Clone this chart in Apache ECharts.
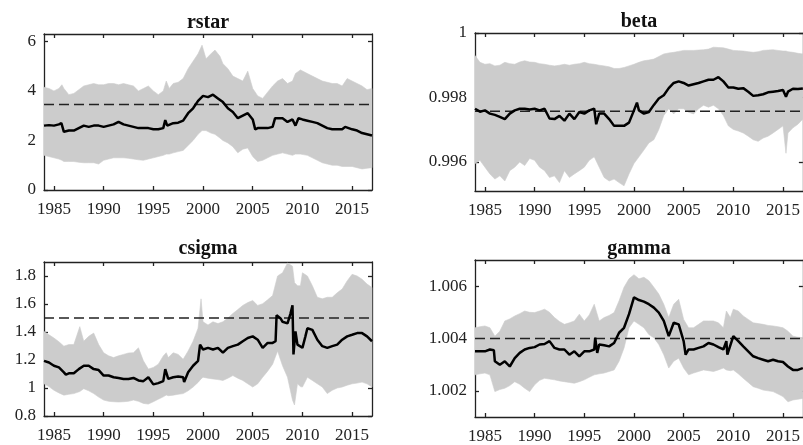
<!DOCTYPE html>
<html>
<head>
<meta charset="utf-8">
<script src="https://cdn.jsdelivr.net/npm/echarts@6/dist/echarts.min.js"></script>
<style>
html,body{margin:0;padding:0;background:#fff;}
#chart{width:803px;height:445px;}
</style>
</head>
<body>
<div id="chart"></div>
<script>
// ---------- Data ----------
const panelTitles = ['rstar', 'beta', 'csigma', 'gamma'];
const xTicks = [1985, 1990, 1995, 2000, 2005, 2010, 2015];
const xMin = 1984, xMax = 2017;

// rstar
const rstarMedT = [1984,1984.5,1985,1985.5,1985.75,1986,1986.5,1987,1987.5,1988,1988.5,1989,1989.5,1990,1990.5,1991,1991.5,1992,1992.5,1993,1993.5,1994,1994.5,1995,1995.5,1996,1996.2,1996.4,1997,1997.5,1998,1998.5,1999,1999.5,2000,2000.5,2001,2001.5,2002,2002.5,2003,2003.5,2004,2004.5,2005,2005.25,2005.5,2006,2006.5,2007,2007.25,2007.5,2008,2008.5,2009,2009.3,2009.6,2010,2010.5,2011,2011.5,2012,2012.5,2013,2013.5,2014,2014.3,2014.5,2015,2015.5,2016,2016.5,2017];
const rstarMed = [2.6,2.62,2.6,2.65,2.7,2.35,2.4,2.4,2.5,2.6,2.55,2.6,2.6,2.55,2.6,2.65,2.75,2.65,2.6,2.55,2.5,2.5,2.5,2.45,2.45,2.5,2.82,2.6,2.7,2.72,2.8,3.1,3.3,3.6,3.8,3.75,3.85,3.7,3.55,3.3,3.15,2.9,3.0,3.1,2.85,2.45,2.5,2.5,2.5,2.55,2.9,2.9,2.9,2.75,2.85,2.6,2.9,2.85,2.8,2.75,2.7,2.6,2.5,2.45,2.45,2.45,2.55,2.5,2.45,2.4,2.3,2.25,2.2];
const rstarBandT = [1984,1984.5,1985,1985.5,1985.8,1986,1986.5,1987,1987.5,1988,1988.5,1989,1989.5,1990,1990.5,1991,1991.5,1992,1992.5,1993,1993.5,1994,1994.5,1995,1995.5,1996,1996.3,1996.6,1997,1997.5,1998,1998.5,1999,1999.5,1999.9,2000.3,2000.8,2001.2,2001.7,2002,2002.5,2003,2003.5,2004,2004.5,2005,2005.5,2006,2006.5,2007,2007.5,2008,2008.5,2009,2009.3,2009.8,2010.5,2011,2011.5,2012,2012.5,2013,2013.5,2014,2014.5,2015,2015.5,2016,2016.5,2017];
const rstarLo = [1.4,1.35,1.3,1.25,1.2,1.15,1.15,1.15,1.12,1.1,1.1,1.1,1.05,1.2,1.25,1.3,1.3,1.3,1.28,1.25,1.22,1.2,1.25,1.3,1.35,1.4,1.45,1.45,1.5,1.55,1.6,1.8,2.0,2.25,2.4,2.4,2.3,2.25,2.1,2.0,1.9,1.75,1.5,1.65,1.7,1.35,1.15,1.2,1.3,1.4,1.45,1.5,1.45,1.4,1.45,1.45,1.4,1.3,1.2,1.1,1.05,1.0,1.0,0.95,0.95,0.95,0.9,0.85,0.88,0.9];
const rstarHi = [4.15,4.1,4.0,4.1,4.25,4.1,3.85,3.9,4.05,4.2,4.25,4.3,4.25,4.25,4.3,4.3,4.25,4.3,4.25,4.2,4.0,4.1,4.2,4.0,3.85,4.0,4.4,4.1,4.3,4.35,4.5,4.9,5.2,5.5,5.85,5.3,5.5,5.65,5.4,5.1,4.9,4.6,4.5,4.4,4.8,4.1,3.8,3.7,3.95,4.2,4.4,4.5,4.3,4.4,4.7,4.85,4.7,4.6,4.5,4.4,4.35,4.3,4.3,4.2,4.5,4.4,4.3,4.2,4.05,4.1];
const rstarRef = 3.45;
const rstarYTicks = [0, 2, 4, 6];
const rstarYRange = [0, 6.3];

// beta
const betaMedT = [1984,1984.5,1985,1985.5,1986,1986.5,1987,1987.5,1988,1988.5,1989,1989.5,1990,1990.5,1991,1991.5,1992,1992.5,1993,1993.5,1994,1994.5,1995,1995.5,1996,1996.2,1996.5,1997,1997.5,1998,1998.5,1999,1999.5,2000,2000.3,2000.5,2001,2001.5,2002,2002.5,2003,2003.5,2004,2004.5,2005,2005.5,2006,2006.5,2007,2007.5,2008,2008.5,2009,2009.5,2010,2010.5,2011,2011.5,2012,2012.5,2013,2013.5,2014,2014.5,2015,2015.3,2015.5,2016,2016.5,2017];
const betaMed = [0.99765,0.99756,0.9976,0.9975,0.99746,0.9974,0.99733,0.9975,0.9976,0.99765,0.99765,0.99763,0.99765,0.9976,0.99765,0.99735,0.99733,0.99743,0.99728,0.9975,0.99733,0.99755,0.9975,0.9976,0.99765,0.99717,0.9975,0.9975,0.99733,0.99712,0.99712,0.99712,0.99722,0.9976,0.99784,0.9976,0.9975,0.99755,0.99777,0.99797,0.99807,0.99829,0.99845,0.9985,0.99845,0.99837,0.99841,0.99845,0.9985,0.99855,0.99855,0.99863,0.9985,0.99831,0.99831,0.99827,0.99829,0.99818,0.99805,0.99807,0.9981,0.99816,0.99818,0.9982,0.99823,0.99802,0.99818,0.99827,0.99826,0.99828];
const betaBandT = [1984,1984.5,1985,1985.5,1986,1986.5,1987,1987.5,1988,1988.5,1989,1989.5,1990,1990.5,1991,1991.5,1992,1992.5,1993,1993.5,1994,1994.5,1995,1995.5,1996,1996.5,1997,1997.5,1998,1998.5,1999,1999.5,2000,2000.5,2001,2001.5,2002,2002.5,2003,2003.5,2004,2004.5,2005,2005.5,2006,2006.5,2007,2007.5,2008,2008.5,2009,2009.5,2010,2010.5,2011,2011.5,2012,2012.5,2013,2013.5,2014,2014.5,2015,2015.3,2015.5,2016,2016.5,2017];
const betaLo = [0.99595,0.99605,0.99584,0.99563,0.99547,0.99557,0.99541,0.99573,0.99584,0.996,0.99589,0.99611,0.99605,0.99584,0.99573,0.99552,0.99557,0.99536,0.99573,0.99552,0.99563,0.99573,0.99584,0.99605,0.99616,0.99584,0.99552,0.99541,0.99547,0.99536,0.99526,0.99563,0.99595,0.99616,0.99637,0.99659,0.99669,0.99701,0.99744,0.99765,0.99749,0.99765,0.99765,0.99754,0.99749,0.99765,0.99776,0.9977,0.99776,0.99765,0.99744,0.99712,0.99701,0.99696,0.9969,0.9968,0.99669,0.99664,0.99674,0.9968,0.9969,0.99701,0.99712,0.99627,0.9969,0.99706,0.99717,0.99733];
const betaHi = [0.9993,0.99909,0.99903,0.99905,0.99898,0.999,0.99909,0.99905,0.99903,0.9991,0.99914,0.9991,0.99909,0.99905,0.99903,0.999,0.99898,0.999,0.99903,0.999,0.99903,0.99905,0.99909,0.99905,0.99903,0.999,0.99898,0.99895,0.9989,0.9989,0.99893,0.99898,0.99903,0.99909,0.99914,0.99916,0.99919,0.99927,0.99935,0.99938,0.9994,0.99943,0.99946,0.99946,0.99946,0.99947,0.99948,0.9995,0.99956,0.99955,0.99954,0.9995,0.99946,0.99945,0.99944,0.99942,0.9994,0.99942,0.99946,0.99947,0.99948,0.99946,0.99944,0.99944,0.99942,0.9994,0.99937,0.99935];
const betaRef = 0.99757;
const betaYTicks = [0.996, 0.998, 1];
const betaYRange = [0.9951, 1.0];

// csigma
const csigmaMedT = [1984,1984.5,1985,1985.5,1986,1986.2,1986.5,1987,1987.5,1988,1988.5,1989,1989.5,1990,1990.5,1991,1991.5,1992,1992.5,1993,1993.5,1994,1994.5,1995,1995.5,1996,1996.2,1996.5,1997,1997.5,1998,1998.1,1998.5,1999,1999.5,1999.7,2000,2000.5,2001,2001.5,2002,2002.5,2003,2003.5,2004,2004.5,2005,2005.5,2006,2006.5,2007,2007.3,2007.4,2007.8,2008,2008.5,2008.8,2009,2009.1,2009.3,2009.5,2010,2010.3,2010.5,2011,2011.5,2012,2012.5,2013,2013.5,2014,2014.5,2015,2015.5,2016,2016.5,2017];
const csigmaMed = [1.194,1.182,1.159,1.147,1.112,1.096,1.105,1.105,1.135,1.159,1.159,1.135,1.128,1.089,1.089,1.077,1.072,1.065,1.065,1.072,1.054,1.049,1.077,1.026,1.035,1.049,1.135,1.065,1.077,1.082,1.077,1.042,1.112,1.159,1.194,1.31,1.275,1.287,1.275,1.287,1.252,1.287,1.299,1.31,1.334,1.357,1.369,1.345,1.287,1.322,1.322,1.334,1.52,1.497,1.473,1.462,1.532,1.59,1.24,1.404,1.31,1.287,1.369,1.427,1.415,1.345,1.299,1.287,1.299,1.31,1.345,1.369,1.38,1.392,1.392,1.369,1.334];
const csigmaBandT = [1984,1984.5,1985,1985.5,1986,1986.5,1987,1987.6,1988,1988.5,1989,1989.5,1990,1990.5,1991,1991.5,1992,1992.5,1993,1993.5,1994,1994.5,1995,1995.5,1996,1996.3,1996.5,1997,1997.5,1998,1998.5,1999,1999.5,1999.8,2000,2000.5,2001,2001.5,2002,2002.5,2003,2003.5,2004,2004.5,2005,2005.5,2006,2006.5,2007,2007.5,2008,2008.5,2009,2009.2,2009.5,2009.8,2010,2010.5,2011,2011.5,2012,2012.5,2013,2013.5,2014,2014.5,2015,2015.5,2016,2016.5,2017];
const csigmaLo = [1.03,1.01,0.984,0.965,0.949,0.955,0.96,0.975,0.995,0.98,0.96,0.935,0.914,0.905,0.902,0.9,0.902,0.905,0.914,0.905,0.89,0.885,0.902,0.92,0.937,0.95,0.945,0.949,0.955,0.96,0.98,1.007,1.04,1.065,1.077,1.07,1.065,1.06,1.054,1.07,1.089,1.07,1.054,1.03,1.007,1.03,1.077,1.12,1.17,1.264,1.159,1.077,0.914,0.879,1.03,1.01,1.007,1.077,1.054,1.03,1.007,0.96,0.984,1.0,1.007,1.02,1.03,1.035,1.042,1.03,1.007];
const csigmaHi = [1.404,1.38,1.357,1.33,1.299,1.31,1.31,1.438,1.334,1.369,1.392,1.31,1.252,1.23,1.217,1.23,1.24,1.25,1.252,1.287,1.194,1.135,1.147,1.17,1.229,1.252,1.217,1.252,1.24,1.205,1.264,1.334,1.427,1.637,1.473,1.45,1.473,1.46,1.473,1.5,1.532,1.56,1.59,1.61,1.625,1.59,1.602,1.63,1.66,1.8,1.823,1.893,1.87,1.753,1.73,1.73,1.823,1.8,1.73,1.648,1.637,1.648,1.648,1.68,1.707,1.765,1.812,1.8,1.777,1.742,1.718];
const csigmaRef = 1.5;
const csigmaYTicks = [0.8, 1, 1.2, 1.4, 1.6, 1.8];
const csigmaYRange = [0.8, 1.9];

// gamma
const gammaMedT = [1984,1984.5,1985,1985.5,1985.9,1986,1986.5,1987,1987.5,1988,1988.5,1989,1989.5,1990,1990.5,1991,1991.5,1992,1992.5,1993,1993.5,1994,1994.5,1995,1995.5,1996,1996.1,1996.3,1996.5,1997,1997.5,1998,1998.5,1999,1999.5,2000,2000.5,2001,2001.5,2002,2002.5,2003,2003.5,2004,2004.5,2005,2005.2,2005.5,2006,2006.5,2007,2007.5,2008,2008.5,2009,2009.3,2009.4,2009.6,2010,2010.5,2011,2011.5,2012,2012.5,2013,2013.5,2014,2014.5,2015,2015.5,2016,2016.5,2017];
const gammaMed = [1.00351,1.00351,1.00351,1.00358,1.00355,1.00313,1.003,1.00313,1.00293,1.00325,1.00345,1.00358,1.00364,1.00367,1.00377,1.00379,1.0039,1.00364,1.00358,1.00358,1.00338,1.00351,1.00332,1.00351,1.00351,1.00358,1.00403,1.00345,1.00377,1.00374,1.0037,1.00383,1.00422,1.00441,1.00493,1.00557,1.00547,1.00541,1.00531,1.00518,1.00499,1.00467,1.00409,1.0046,1.00454,1.0039,1.00338,1.00358,1.00358,1.00364,1.0037,1.00383,1.00377,1.00367,1.00358,1.0039,1.00338,1.00345,1.00409,1.0039,1.0037,1.00351,1.00332,1.00325,1.00319,1.00313,1.00319,1.00313,1.0031,1.00293,1.0028,1.0028,1.00287];
const gammaBandT = [1984,1984.5,1985,1985.5,1986,1986.5,1987,1987.5,1988,1988.5,1989,1989.5,1990,1990.5,1991,1991.5,1992,1992.5,1993,1993.5,1994,1994.5,1995,1995.5,1996,1996.5,1997,1997.5,1998,1998.5,1999,1999.5,2000,2000.5,2001,2001.5,2002,2002.5,2003,2003.5,2004,2004.5,2005,2005.5,2006,2006.5,2007,2007.5,2008,2008.5,2009,2009.3,2009.7,2010,2010.5,2011,2011.5,2012,2012.5,2013,2013.5,2014,2014.5,2015,2015.5,2016,2016.5,2017];
const gammaLo = [1.00261,1.00265,1.00268,1.00261,1.00197,1.00205,1.0021,1.0022,1.00235,1.00225,1.0021,1.00197,1.00223,1.0024,1.00248,1.00245,1.00242,1.00238,1.00235,1.00232,1.00229,1.00235,1.00242,1.00252,1.00261,1.00265,1.00268,1.00274,1.0028,1.00313,1.00364,1.00441,1.00467,1.00454,1.00441,1.00415,1.00403,1.00377,1.00338,1.00287,1.00313,1.00325,1.00287,1.00261,1.00268,1.00274,1.0028,1.00277,1.00274,1.0028,1.00287,1.0028,1.00277,1.0028,1.00265,1.00248,1.00232,1.00216,1.0021,1.00203,1.002,1.00197,1.00188,1.00178,1.00158,1.00165,1.00168,1.00171];
const gammaHi = [1.00441,1.00445,1.00448,1.00441,1.00409,1.00428,1.00467,1.00475,1.00486,1.00495,1.00505,1.005,1.00499,1.00505,1.00512,1.005,1.0048,1.00465,1.00454,1.0046,1.00467,1.00493,1.00467,1.0049,1.00531,1.00467,1.0048,1.00488,1.00499,1.00544,1.00596,1.00628,1.00644,1.00628,1.00634,1.00621,1.00596,1.0057,1.00531,1.0048,1.00531,1.0055,1.00473,1.00441,1.00441,1.00454,1.00467,1.00467,1.00467,1.0046,1.00441,1.00505,1.0048,1.00512,1.00505,1.00486,1.00473,1.0046,1.00457,1.00454,1.0045,1.00448,1.00445,1.00441,1.00428,1.00409,1.00405,1.00403];
const gammaRef = 1.004;
const gammaYTicks = [1.002, 1.004, 1.006];
const gammaYRange = [1.001, 1.007];

// ---------- Build ----------
const panels = [
  {title: panelTitles[0], medT: rstarMedT, med: rstarMed, bandT: rstarBandT, lo: rstarLo, hi: rstarHi, ref: rstarRef, yTicks: rstarYTicks, yr: rstarYRange},
  {title: panelTitles[1], medT: betaMedT, med: betaMed, bandT: betaBandT, lo: betaLo, hi: betaHi, ref: betaRef, yTicks: betaYTicks, yr: betaYRange},
  {title: panelTitles[2], medT: csigmaMedT, med: csigmaMed, bandT: csigmaBandT, lo: csigmaLo, hi: csigmaHi, ref: csigmaRef, yTicks: csigmaYTicks, yr: csigmaYRange},
  {title: panelTitles[3], medT: gammaMedT, med: gammaMed, bandT: gammaBandT, lo: gammaLo, hi: gammaHi, ref: gammaRef, yTicks: gammaYTicks, yr: gammaYRange}
];
const gridBoxes = [
  {left: 44, top: 34, width: 328, height: 156},
  {left: 475, top: 33, width: 330, height: 158},
  {left: 44, top: 262, width: 328, height: 154},
  {left: 475, top: 260, width: 330, height: 157}
];
const titleTops = [13, 12, 239, 239];

const FONT = 'Liberation Serif';
const AX = '#222';
const lineStyleAx = {color: AX, width: 1.3};
function fmt(v) { return String(parseFloat(Number(v).toFixed(5))); }

const grids = [], xAxes = [], yAxes = [], series = [], titles = [];
panels.forEach((p, i) => {
  const g = gridBoxes[i];
  grids.push(Object.assign({containLabel: false}, g));
  titles.push({
    text: p.title, left: g.left + g.width / 2 - (i % 2 === 1 ? 1 : 0), top: titleTops[i], textAlign: 'center', padding: 0,
    textStyle: {fontFamily: FONT, fontWeight: 'bold', fontSize: 20, color: '#111'}
  });
  // bottom x axis with labels
  xAxes.push({
    type: 'value', gridIndex: i, position: 'bottom', min: xMin, max: xMax,
    axisLine: {show: true, onZero: false, lineStyle: lineStyleAx},
    axisTick: {show: true, inside: true, length: 4, customValues: xTicks, lineStyle: lineStyleAx},
    axisLabel: {show: true, customValues: xTicks, margin: 11, fontFamily: FONT, fontSize: 17, color: '#222', formatter: v => String(v)},
    splitLine: {show: false}
  });
  // top x axis (box)
  xAxes.push({
    type: 'value', gridIndex: i, position: 'top', min: xMin, max: xMax,
    axisLine: {show: true, onZero: false, lineStyle: lineStyleAx},
    axisTick: {show: true, inside: true, length: 4, customValues: xTicks, lineStyle: lineStyleAx},
    axisLabel: {show: false},
    splitLine: {show: false}
  });
  yAxes.push({
    type: 'value', gridIndex: i, position: 'left', min: p.yr[0], max: p.yr[1],
    axisLine: {show: true, onZero: false, lineStyle: lineStyleAx},
    axisTick: {show: true, inside: true, length: 4, customValues: p.yTicks, lineStyle: lineStyleAx},
    axisLabel: {show: true, customValues: p.yTicks, margin: 8, fontFamily: FONT, fontSize: 17, color: '#222', formatter: v => fmt(v)},
    splitLine: {show: false}
  });
  yAxes.push({
    type: 'value', gridIndex: i, position: 'right', min: p.yr[0], max: p.yr[1],
    axisLine: {show: true, onZero: false, lineStyle: lineStyleAx},
    axisTick: {show: true, inside: true, length: 4, customValues: p.yTicks, lineStyle: lineStyleAx},
    axisLabel: {show: false},
    splitLine: {show: false}
  });
  const xi = 2 * i, yi = 2 * i;
  const T = p.bandT, lo = p.lo, hi = p.hi;
  series.push({
    type: 'custom', xAxisIndex: xi, yAxisIndex: yi, silent: true, z: 1,
    data: T.map((t, k) => [t, lo[k], hi[k]]),
    encode: {x: 0, y: [1, 2]},
    renderItem: function (params, api) {
      if (params.dataIndex !== 0) return null;
      const pts = [];
      for (let k = 0; k < T.length; k++) pts.push(api.coord([T[k], hi[k]]));
      for (let k = T.length - 1; k >= 0; k--) pts.push(api.coord([T[k], lo[k]]));
      return {type: 'polygon', shape: {points: pts}, style: {fill: '#cccccc', stroke: '#cccccc', lineWidth: 0.6}};
    }
  });
  series.push({
    type: 'line', xAxisIndex: xi, yAxisIndex: yi, silent: true, z: 3,
    data: [[xMin, p.ref], [xMax, p.ref]], symbol: 'none',
    lineStyle: {color: '#222', width: 1.5, type: [10, 5]}
  });
  series.push({
    type: 'line', xAxisIndex: xi, yAxisIndex: yi, silent: true, z: 4,
    data: p.medT.map((t, k) => [t, p.med[k]]), symbol: 'none',
    lineStyle: {color: '#000', width: 2.5}
  });
});

const chart = echarts.init(document.getElementById('chart'), null, {renderer: 'canvas'});
chart.setOption({
  animation: false,
  backgroundColor: '#fff',
  title: titles,
  grid: grids,
  xAxis: xAxes,
  yAxis: yAxes,
  series: series
});
</script>
</body>
</html>
